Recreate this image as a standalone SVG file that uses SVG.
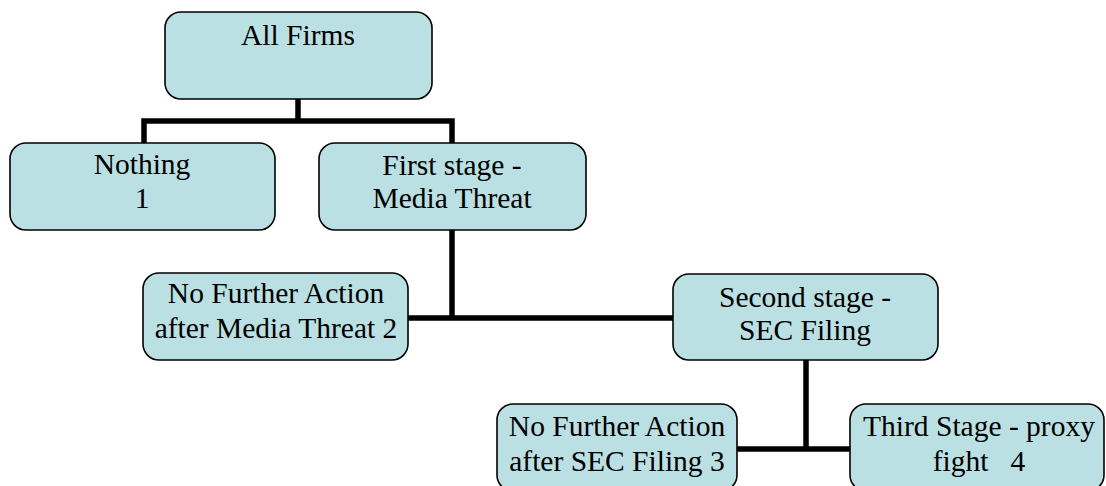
<svg xmlns="http://www.w3.org/2000/svg" width="1106" height="486" viewBox="0 0 1106 486">
<style>
.box{fill:#BAE0E3;stroke:#000;stroke-width:1.6}
.c{fill:none;stroke:#000;stroke-width:5.5;stroke-linejoin:miter;stroke-linecap:butt}
</style>
<rect width="1106" height="486" fill="#fff"/>
<g id="connectors">
<path class="c" d="M298 99 V121 M144 143 V121 H452 V143"/>
<path class="c" d="M452 230 V318 M408 318 H673"/>
<path class="c" d="M806 360 V449 M737 449 H850"/>
</g>
<g id="all-firms">
<rect class="box" x="165" y="12" width="267" height="87" rx="16"/>
<text x="298" y="45" font-family="Liberation Serif" font-size="29.5" text-anchor="middle">All Firms</text>
</g>
<g id="nothing">
<rect class="box" x="10" y="143" width="265" height="87" rx="16"/>
<text x="142" y="174" font-family="Liberation Serif" font-size="29.5" text-anchor="middle">Nothing</text>
<text x="142" y="208" font-family="Liberation Serif" font-size="29.5" text-anchor="middle">1</text>
</g>
<g id="first-stage">
<rect class="box" x="319" y="143" width="267" height="87" rx="16"/>
<text x="452" y="175" font-family="Liberation Serif" font-size="29.5" text-anchor="middle">First stage -</text>
<text x="452" y="208" font-family="Liberation Serif" font-size="29.5" text-anchor="middle">Media Threat</text>
</g>
<g id="no-further-media">
<rect class="box" x="143" y="273" width="265" height="87" rx="16"/>
<text x="276" y="303" font-family="Liberation Serif" font-size="29.5" text-anchor="middle">No Further Action</text>
<text x="276" y="338" font-family="Liberation Serif" font-size="29.5" text-anchor="middle">after Media Threat 2</text>
</g>
<g id="second-stage">
<rect class="box" x="673" y="274" width="265" height="86" rx="16"/>
<text x="805" y="307" font-family="Liberation Serif" font-size="29.5" text-anchor="middle">Second stage -</text>
<text x="805" y="340" font-family="Liberation Serif" font-size="29.5" text-anchor="middle">SEC Filing</text>
</g>
<g id="no-further-sec">
<rect class="box" x="497" y="404" width="240" height="87" rx="16"/>
<text x="617" y="436" font-family="Liberation Serif" font-size="29.5" text-anchor="middle">No Further Action</text>
<text x="617" y="471" font-family="Liberation Serif" font-size="29.5" text-anchor="middle">after SEC Filing 3</text>
</g>
<g id="third-stage">
<rect class="box" x="850" y="404" width="254" height="87" rx="16"/>
<text x="979" y="436" font-family="Liberation Serif" font-size="29.5" text-anchor="middle">Third Stage - proxy</text>
<text x="979" y="471" font-family="Liberation Serif" font-size="29.5" text-anchor="middle" xml:space="preserve">fight   4</text>
</g>
</svg>
